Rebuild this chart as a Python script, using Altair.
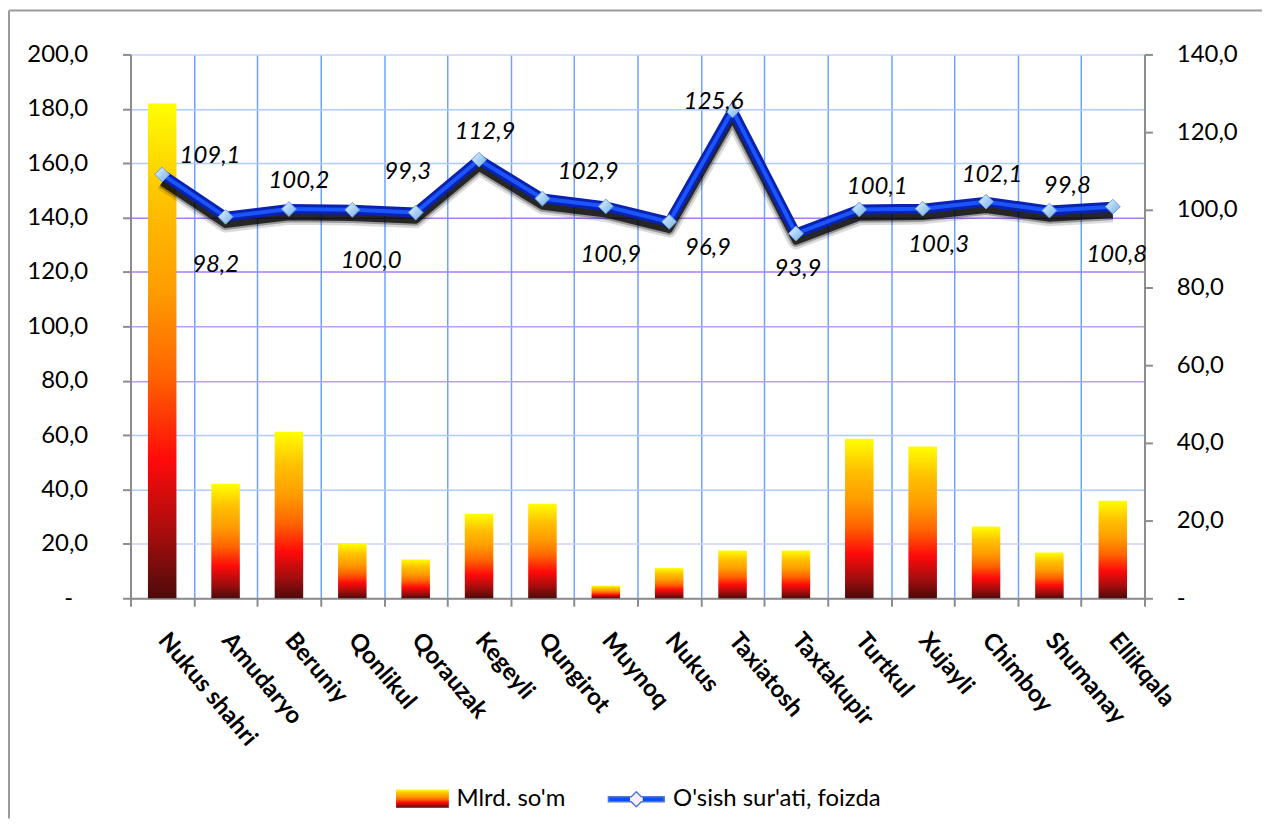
import altair as alt
import pandas as pd

# ---------------- data ----------------
categories = ["Nukus shahri", "Amudaryo", "Beruniy", "Qonlikul", "Qorauzak", "Kegeyli",
              "Qungirot", "Muynoq", "Nukus", "Taxiatosh", "Taxtakupir", "Turtkul",
              "Xujayli", "Chimboy", "Shumanay", "Ellikqala"]
volume = [182.0, 42.1, 61.2, 20.1, 14.3, 31.1, 34.8, 4.6, 11.1, 17.6, 17.6, 58.7,
          55.8, 26.4, 16.8, 35.9]
growth = [109.1, 98.2, 100.2, 100.0, 99.3, 112.9, 102.9, 100.9, 96.9, 125.6, 93.9,
          100.1, 100.3, 102.1, 99.8, 100.8]
left_ticks = [0, 20, 40, 60, 80, 100, 120, 140, 160, 180, 200]
right_ticks = [0, 20, 40, 60, 80, 100, 120, 140]
bar_name = "Mlrd. so'm"
line_name = "O'sish sur'ati, foizda"

# label offsets (pixels) for the value labels of the line
label_dx = [48, -10, 10, 19, -8, 6, 46, 5, 39, -19, 2, 18, 16, 6, 18, 4]
label_dy = [-19, 48, -28, 51, -41, -28, -27, 49, 26, -8, 36, -22, 37, -27, -25, 49]

df = pd.DataFrame({"region": categories, "volume": volume, "growth": growth})

W, H = 1018, 546
FONT = "Lato"
FS = 24
AXIS_GREY = "#8c8c8c"

bar_gradient = {
    "gradient": "linear", "x1": 0, "y1": 1, "x2": 0, "y2": 0,
    "stops": [
        {"offset": 0.0, "color": "#4d0a0a"},
        {"offset": 0.12, "color": "#a00d0d"},
        {"offset": 0.28, "color": "#ff0a0a"},
        {"offset": 0.45, "color": "#ff6400"},
        {"offset": 0.62, "color": "#ff9c00"},
        {"offset": 0.8, "color": "#ffc000"},
        {"offset": 1.0, "color": "#ffff00"},
    ],
}
point_gradient = {
    "gradient": "linear", "x1": 0, "y1": 0, "x2": 1, "y2": 1,
    "stops": [
        {"offset": 0.0, "color": "#eaf5ff"},
        {"offset": 0.5, "color": "#a9d0f5"},
        {"offset": 1.0, "color": "#7aaee6"},
    ],
}
line_legend_gradient = {
    "gradient": "linear", "x1": 0, "y1": 0, "x2": 1, "y2": 0,
    "stops": [
        {"offset": 0.0, "color": "#0a4cff"},
        {"offset": 0.385, "color": "#0a4cff"},
        {"offset": 0.39, "color": "#fdeefb"},
        {"offset": 0.61, "color": "#fdeefb"},
        {"offset": 0.615, "color": "#0a4cff"},
        {"offset": 1.0, "color": "#0a4cff"},
    ],
}
bar_path = "M-1.3,-0.45H1.3V0.45H-1.3Z"
line_path = ("M-1.5,-0.13L-0.27,-0.13L0,-0.4L0.27,-0.13L1.5,-0.13L1.5,0.13"
             "L0.27,0.13L0,0.4L-0.27,0.13L-1.5,0.13Z")

num_expr = "replace(format(datum.value, '.1f'), '.', ',')"

x_enc = alt.X(
    "region:N", sort=categories, title=None,
    scale=alt.Scale(paddingInner=0, paddingOuter=0),
    axis=alt.Axis(
        tickBand="extent", grid=True, gridColor="#6ea2ff", gridWidth=1.5,
        domainColor=AXIS_GREY, domainWidth=2, tickColor=AXIS_GREY, tickWidth=2,
        tickSize=8, labelAngle=50, labelAlign="left", labelBaseline="middle",
        labelPadding=30, labelFont=FONT, labelFontSize=FS, labelFontWeight="bold",
        labelColor="black", labelOverlap=False, labelLimit=400,
    ),
)

y_left = alt.Y(
    "volume:Q", scale=alt.Scale(domain=[0, 200], nice=False),
    axis=alt.Axis(
        orient="left", values=left_ticks, title=None,
        labelExpr="datum.value == 0 ? '-' : " + num_expr,
        grid=True, gridWidth=1.5,
        gridColor={
            "condition": [
                {"test": "datum.value >= 120 && datum.value <= 140", "value": "#a97cf6"},
                {"test": "datum.value >= 80 && datum.value <= 100", "value": "#b99cf8"},
                {"test": "datum.value == 200 || datum.value == 20", "value": "#cdd2fb"},
            ],
            "value": "#aecbff",
        },
        domainColor=AXIS_GREY, domainWidth=2, tickColor=AXIS_GREY, tickWidth=2,
        tickSize=8,
        labelPadding={"condition": {"test": "datum.value == 0", "value": 50}, "value": 35},
        labelFont=FONT, labelFontSize=FS, labelColor="black",
    ),
)


def y_right(field):
    return alt.Y(
        field, scale=alt.Scale(domain=[0, 140], nice=False),
        axis=alt.Axis(
            orient="right", values=right_ticks, title=None, grid=False,
            labelExpr="datum.value == 0 ? '-' : " + num_expr,
            domainColor=AXIS_GREY, domainWidth=2, tickColor=AXIS_GREY, tickWidth=2,
            tickSize=8, labelPadding=24, labelFont=FONT, labelFontSize=FS,
            labelColor="black",
        ),
    )


base = alt.Chart(df)

bars = base.transform_calculate(leg=f'"{bar_name}"').mark_bar(
    color=bar_gradient, width={"band": 0.45}
).encode(
    x=x_enc,
    y=y_left,
    opacity=alt.Opacity(
        "leg:O", scale=alt.Scale(domain=[bar_name], range=[1]),
        legend=alt.Legend(
            title=None, orient="none", legendX=272.6, legendY=726.6,
            direction="horizontal", symbolType=bar_path, symbolSize=1664,
            symbolStrokeWidth=0, labelFont=FONT, labelFontSize=FS,
            labelColor="black", labelOffset=13.6, padding=0, labelLimit=400,
        ),
    ),
)

shadow_base = base.transform_calculate(gs="datum.growth - 2.0")
shadow_wide = shadow_base.mark_line(color="black", strokeWidth=16, opacity=0.14,
                                    strokeJoin="round").encode(x=x_enc, y=y_right("gs:Q"))
shadow_mid = shadow_base.mark_line(color="black", strokeWidth=11, opacity=0.3,
                                   strokeJoin="round").encode(x=x_enc, y=y_right("gs:Q"))
shadow_core = shadow_base.mark_line(color="black", strokeWidth=7, opacity=0.75,
                                    strokeJoin="round").encode(x=x_enc, y=y_right("gs:Q"))
line_outer = base.mark_line(color="#0a22b0", strokeWidth=10).encode(
    x=x_enc, y=y_right("growth:Q"))
line_inner = base.mark_line(color="#1a55ff", strokeWidth=4).encode(
    x=x_enc, y=y_right("growth:Q"))
points = base.mark_point(shape="diamond", filled=True, size=220, fill=point_gradient,
                         stroke="#6c9fd8", strokeWidth=1, opacity=1).encode(
    x=x_enc, y=y_right("growth:Q"))

label_layers = []
for cat, dx, dy in zip(categories, label_dx, label_dy):
    label_layers.append(
        base.transform_filter(alt.datum.region == cat)
        .transform_calculate(lbl="replace(format(datum.growth, '.1f'), '.', ',')")
        .mark_text(font=FONT, fontSize=FS, fontStyle="italic", color="black",
                   align="center", baseline="middle", dx=dx, dy=dy)
        .encode(x=x_enc, y=y_right("growth:Q"), text="lbl:N")
    )

line_legend = base.transform_calculate(leg=f'"{line_name}"').transform_filter("false").mark_point(
    filled=True, fill=line_legend_gradient, stroke="#4f7cc4", strokeWidth=1.3,
    opacity=1, size=1393,
).encode(
    shape=alt.Shape(
        "leg:N", scale=alt.Scale(domain=[line_name], range=[line_path]),
        legend=alt.Legend(
            title=None, orient="none", legendX=488.3, legendY=728.3,
            direction="horizontal", symbolSize=1393, symbolOpacity=1,
            labelFont=FONT, labelFontSize=FS, labelColor="black",
            labelOffset=17.4, padding=0, labelLimit=400,
        ),
    )
)

inner = alt.layer(shadow_wide, shadow_mid, shadow_core, line_outer, line_inner, points,
                  *label_layers, line_legend)

frame_data = alt.Data(values=[{"k": 0}])
frame_top = alt.Chart(frame_data).mark_rule(color="#9a9a9a", strokeWidth=2).encode(
    x=alt.value(-122), x2=alt.value(1136), y=alt.value(-44))
frame_left = alt.Chart(frame_data).mark_rule(color="#9a9a9a", strokeWidth=2).encode(
    x=alt.value(-122), y=alt.value(-44), y2=alt.value(767))

chart = alt.layer(frame_top, frame_left, bars, inner).resolve_scale(
    y="independent"
).properties(
    width=W, height=H, padding=0, background="white"
).configure_view(stroke=None)

chart.save("out.html", embed_options={"renderer": "svg", "actions": False})
